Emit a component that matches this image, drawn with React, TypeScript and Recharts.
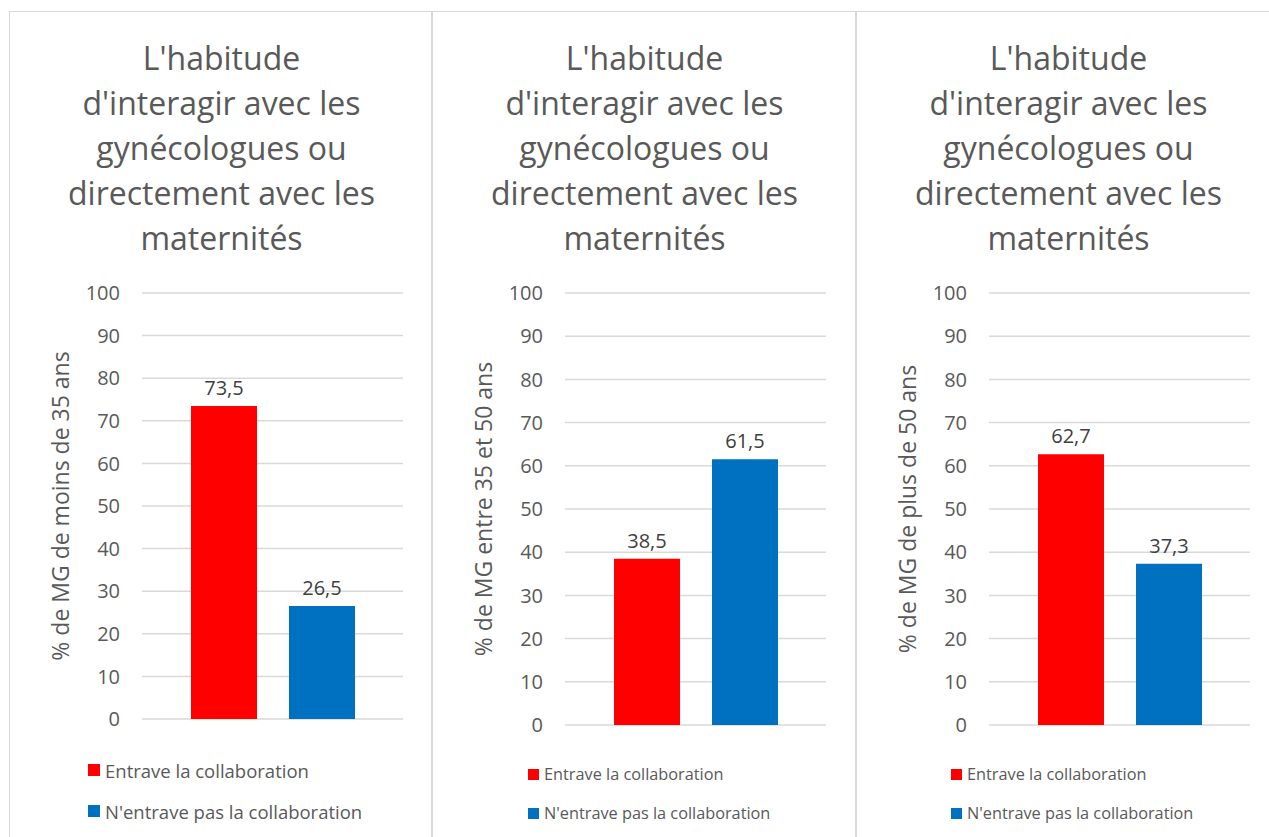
import { BarChart, Bar, XAxis, YAxis, CartesianGrid, LabelList } from 'recharts';

const TITLE_LINES = [
  "L'habitude",
  "d'interagir avec les",
  'gynécologues ou',
  'directement avec les',
  'maternités',
];

const AGE_GROUPS = [
  '% de MG de moins de 35 ans',
  '% de MG entre 35 et 50 ans',
  '% de MG de plus de 50 ans',
];

const SERIES_NAMES = ['Entrave la collaboration', "N'entrave pas la collaboration"];
const SERIES_COLORS = ['#ff0000', '#0070c0'];

const ENTRAVE = [73.5, 38.5, 62.7];
const N_ENTRAVE = [26.5, 61.5, 37.3];

const Y_TICKS = [0, 10, 20, 30, 40, 50, 60, 70, 80, 90, 100];

const FONT = '"Open Sans", Lato, sans-serif';
const TEXT = '#595959';
const GRID = '#d9d9d9';

// layout of each panel on the page
const PANELS = [
  { left: 9, width: 423, plotBottom: 719, legendLeft: 78, legendFont: 18.5, legendRows: [769, 810], marker: 12 },
  { left: 432, width: 424, plotBottom: 725, legendLeft: 95, legendFont: 16.3, legendRows: [773, 812], marker: 11 },
  { left: 856, width: 430, plotBottom: 725, legendLeft: 94, legendFont: 16.3, legendRows: [773, 812], marker: 11 },
];

const fmt = (v: number) => String(v).replace('.', ',');

function Panel({ idx }: { idx: number }) {
  const p = PANELS[idx];
  const data = [{ name: AGE_GROUPS[idx], entrave: ENTRAVE[idx], nEntrave: N_ENTRAVE[idx] }];
  const chartTop = 270;
  const bottomMargin = 24;
  const height = p.plotBottom - chartTop + bottomMargin;

  return (
    <div
      style={{
        position: 'absolute',
        left: p.left,
        top: 11,
        width: p.width,
        height: 860,
        borderLeft: `1px solid ${GRID}`,
        borderTop: `1px solid ${GRID}`,
        borderRight: `1px solid ${GRID}`,
        boxSizing: 'border-box',
      }}
    >
      <div
        style={{
          position: 'absolute',
          top: 23,
          left: 0,
          width: 423,
          textAlign: 'center',
          fontSize: 32,
          lineHeight: '45px',
          color: TEXT,
          fontFamily: FONT,
        }}
      >
        {TITLE_LINES.map((l) => (
          <div key={l}>{l}</div>
        ))}
      </div>
      <div style={{ position: 'absolute', left: -1, top: chartTop - 12 }}>
        <BarChart
          width={423}
          height={height}
          data={data}
          margin={{ top: 23, right: 29, bottom: bottomMargin, left: 0 }}
          barSize={66}
          barGap={32}
        >
          <CartesianGrid vertical={false} stroke={GRID} strokeWidth={1.5} />
          <XAxis dataKey="name" hide />
          <YAxis
            width={133}
            domain={[0, 100]}
            ticks={Y_TICKS}
            interval={0}
            axisLine={false}
            tickLine={false}
            tickMargin={16}
            tick={{ fill: TEXT, fontSize: 20, fontFamily: FONT }}
            label={{
              value: AGE_GROUPS[idx],
              angle: -90,
              position: 'center',
              dx: -15,
              fill: TEXT,
              fontSize: 23,
              fontFamily: FONT,
            }}
          />
          <Bar dataKey="entrave" name={SERIES_NAMES[0]} fill={SERIES_COLORS[0]} isAnimationActive={false}>
            <LabelList dataKey="entrave" position="top" offset={11} formatter={fmt} fill="#404040" fontSize={20} fontFamily={FONT} />
          </Bar>
          <Bar dataKey="nEntrave" name={SERIES_NAMES[1]} fill={SERIES_COLORS[1]} isAnimationActive={false}>
            <LabelList dataKey="nEntrave" position="top" offset={11} formatter={fmt} fill="#404040" fontSize={20} fontFamily={FONT} />
          </Bar>
        </BarChart>
      </div>
      {SERIES_NAMES.map((s, i) => (
        <div
          key={s}
          style={{
            position: 'absolute',
            left: p.legendLeft,
            top: p.legendRows[i] - 11 - 12,
            height: 24,
            display: 'flex',
            alignItems: 'center',
            fontFamily: FONT,
            fontSize: p.legendFont,
            color: TEXT,
            whiteSpace: 'nowrap',
          }}
        >
          <span style={{ width: p.marker, height: p.marker, background: SERIES_COLORS[i], marginRight: 5, display: 'inline-block' }} />
          {s}
        </div>
      ))}
    </div>
  );
}

export default function App() {
  return (
    <div
      style={{
        position: 'absolute',
        left: 0,
        top: 0,
        width: 1269,
        height: 837,
        overflow: 'hidden',
        background: '#fff',
      }}
    >
      {PANELS.map((_, i) => (
        <Panel key={i} idx={i} />
      ))}
    </div>
  );
}
